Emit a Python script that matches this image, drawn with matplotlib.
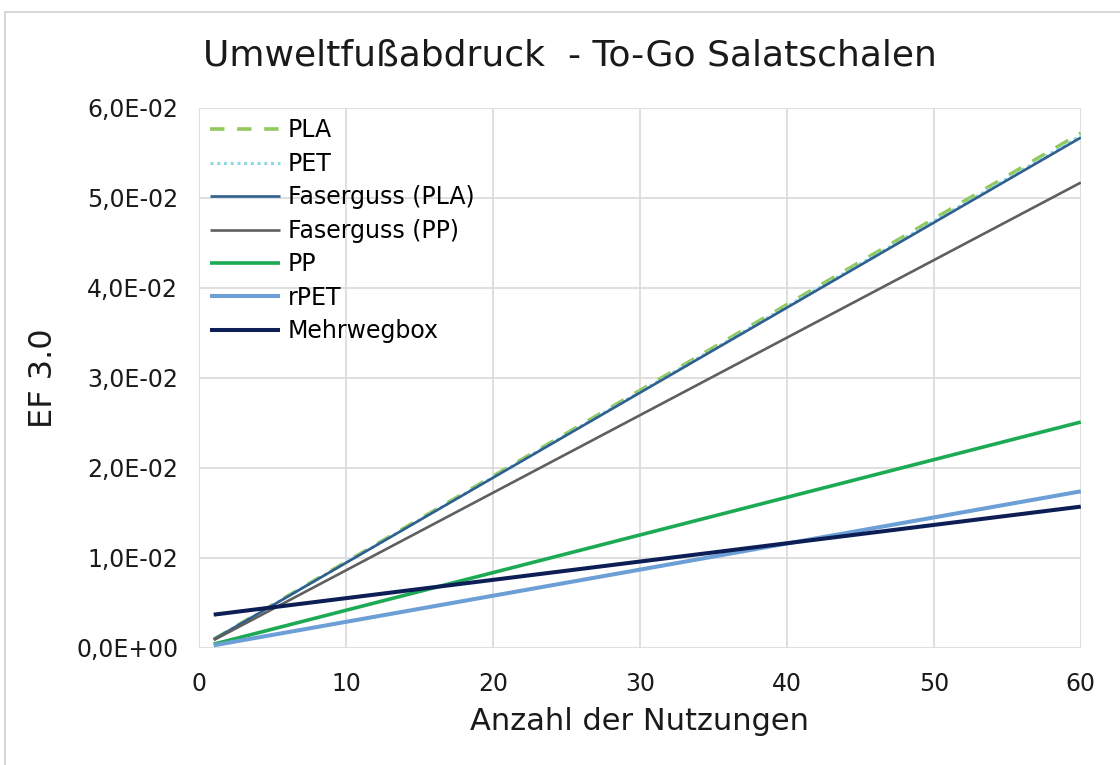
import matplotlib
matplotlib.use("Agg")
import matplotlib.pyplot as plt
from matplotlib.lines import Line2D
from matplotlib.ticker import FuncFormatter


# =========================
# Data
# =========================

uses = [1, 60]

pla = [0.00097, 0.0572]
pet = [0.00095, 0.0569]
faserguss_pla = [0.00095, 0.0567]
faserguss_pp = [0.00087, 0.0517]
pp = [0.00042, 0.0251]
rpet = [0.00029, 0.0174]
mehrwegbox = [0.0037, 0.0157]

series_labels = ["PLA", "PET", "Faserguss (PLA)", "Faserguss (PP)",
                 "PP", "rPET", "Mehrwegbox"]

title = "Umweltfußabdruck  - To-Go Salatschalen"
xlabel = "Anzahl der Nutzungen"
ylabel = "EF 3.0"


def sci_comma(y, pos):
    return f"{y:.1E}".replace(".", ",")


def main():
    plt.rcParams["font.family"] = "DejaVu Sans"

    fig = plt.figure(figsize=(11.2, 7.65), dpi=100)
    ax = fig.add_axes([0.1777, 0.153, 0.7873, 0.706])

    styles = [
        (pla, dict(color="#92C95A", lw=2.6, ls=(0, (4, 3.5)))),
        (pet, dict(color="#8ED8E0", lw=2.2, ls=(0, (1, 1.2)))),
        (faserguss_pla, dict(color="#2F5F8F", lw=1.9)),
        (faserguss_pp, dict(color="#5F5F5F", lw=1.9)),
        (pp, dict(color="#1DAA55", lw=2.6)),
        (rpet, dict(color="#6C9FD6", lw=2.9)),
        (mehrwegbox, dict(color="#0C1E55", lw=2.9)),
    ]
    for (vals, st), lab in zip(styles, series_labels):
        ax.plot(uses, vals, label=lab, solid_capstyle="butt", **st)

    ax.set_xlim(0, 60)
    ax.set_ylim(0, 0.06)
    ax.set_xticks(range(0, 61, 10))
    ax.set_yticks([0.0, 0.01, 0.02, 0.03, 0.04, 0.05, 0.06])
    ax.yaxis.set_major_formatter(FuncFormatter(sci_comma))

    ax.grid(True, color="#D9D9D9", lw=1.2)
    ax.set_axisbelow(True)
    for sp in ax.spines.values():
        sp.set_visible(False)
    ax.tick_params(length=0, labelsize=17, colors="#1A1A1A")
    ax.tick_params(axis="x", pad=17)
    ax.tick_params(axis="y", pad=15)

    ax.set_xlabel(xlabel, fontsize=22, labelpad=8, color="#1A1A1A")
    ax.set_ylabel(ylabel, fontsize=23, labelpad=12, color="#1A1A1A")

    fig.text(0.509, 0.927, title, ha="center", va="center", fontsize=26,
             color="#1A1A1A")

    ax.legend(loc="upper left", frameon=False, fontsize=17,
              handlelength=3.0, handletextpad=0.3, labelspacing=0.4,
              borderaxespad=0.3, borderpad=0.15)

    # outer chart border
    fig.add_artist(Line2D([5 / 1120, 1.0], [1 - 12 / 765, 1 - 12 / 765],
                          color="#D0D0D0", lw=1.2))
    fig.add_artist(Line2D([5 / 1120, 5 / 1120], [0.0, 1 - 12 / 765],
                          color="#D0D0D0", lw=1.2))

    fig.savefig("out.png", dpi=100)


if __name__ == "__main__":
    main()
